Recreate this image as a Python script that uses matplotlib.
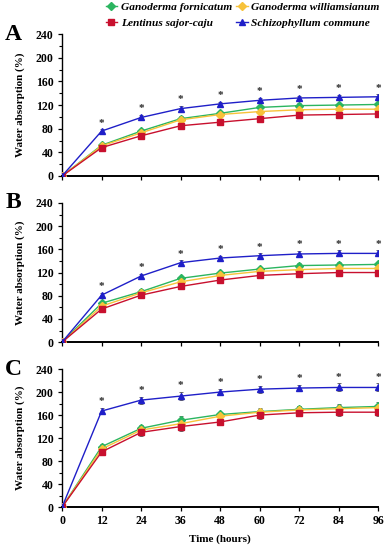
import numpy as np
import matplotlib.pyplot as plt
from matplotlib.lines import Line2D

plt.rcParams['font.family'] = ['Liberation Serif', 'DejaVu Serif']
plt.rcParams['font.weight'] = 'bold'
plt.rcParams['axes.labelweight'] = 'bold'

hours = [0, 12, 24, 36, 48, 60, 72, 84, 96]
species = ['Ganoderma fornicatum', 'Ganoderma williamsianum',
           'Lentinus sajor-caju', 'Schizophyllum commune']
colors = ['#2bb560', '#f7c23a', '#c8102e', '#1f1fc8']
markers = ['D', 'D', 's', '^']

# panel A
a_gf = [0, 52, 76, 97, 106, 116, 119, 120, 121]
a_gw = [0, 51, 73, 95, 104, 109, 112, 113, 113]
a_ls = [0, 48, 68, 85, 91, 97, 103, 104, 105]
a_sc = [0, 76, 99, 114, 122, 128, 132, 133, 134]
a_err = [0, 3, 4, 4, 4, 4, 4, 4, 4]

# panel B
b_gf = [0, 67, 87, 110, 119, 126, 132, 133, 134]
b_gw = [0, 62, 85, 104, 115, 122, 125, 127, 127]
b_ls = [0, 57, 81, 96, 107, 115, 118, 120, 120]
b_sc = [0, 81, 114, 137, 145, 149, 152, 153, 153]
b_err = [0, 4, 4, 4, 4, 4, 5, 5, 5]

# panel C
c_gf = [0, 105, 137, 151, 161, 166, 170, 173, 175]
c_gw = [0, 101, 134, 145, 158, 165, 169, 171, 173]
c_ls = [0, 96, 130, 140, 148, 160, 164, 165, 165]
c_sc = [0, 167, 186, 193, 200, 205, 207, 208, 208]
c_err = [0, 5, 6, 7, 5, 6, 6, 7, 7]

panels = [('A', [a_gf, a_gw, a_ls, a_sc], a_err),
          ('B', [b_gf, b_gw, b_ls, b_sc], b_err),
          ('C', [c_gf, c_gw, c_ls, c_sc], c_err)]

fig = plt.figure(figsize=(3.88, 5.5), dpi=100)
boxes = [[0.160, 0.680, 0.815, 0.258],
         [0.160, 0.378, 0.815, 0.253],
         [0.160, 0.078, 0.815, 0.251]]

for (label, series, err), box in zip(panels, boxes):
    ax = fig.add_axes(box)
    for vals, c, m in zip(series, colors, markers):
        ax.errorbar(hours, vals, yerr=err, color=c, marker=m, markersize=4.2,
                    linewidth=1.0, ecolor='#555555', elinewidth=0.6,
                    capsize=1.2, capthick=0.6, zorder=3)
    sc = series[3]
    for x, y, e in zip(hours[1:], sc[1:], err[1:]):
        ax.text(x, y + e + 3, '*', ha='center', va='bottom',
                fontsize=8, color='#2a2a2a')
    ax.set_xlim(0, 96)
    ax.set_ylim(0, 240)
    ax.set_xticks(hours)
    ax.set_yticks(range(0, 241, 40))
    ax.set_yticks(range(0, 241, 20), minor=True)
    for s in ['top', 'right']:
        ax.spines[s].set_visible(False)
    ax.spines['left'].set_linewidth(1.0)
    ax.spines['bottom'].set_linewidth(1.4)
    ax.tick_params(axis='both', labelsize=8.5, width=0.9, length=3, pad=3)
    ax.tick_params(axis='y', which='minor', length=2, width=0.8)
    for t in ax.get_xticklabels() + ax.get_yticklabels():
        t.set_fontweight('bold')
    ax.set_ylabel('Water absorption (%)', fontsize=8, fontweight='bold',
                  labelpad=8)
    ax.text(-0.155, 1.0, label, transform=ax.transAxes, fontsize=17,
            fontweight='bold', ha='center', va='center')
    if label != 'C':
        ax.set_xticklabels([])
    else:
        ax.set_xlabel('Time (hours)', fontsize=8, fontweight='bold',
                      labelpad=5)

handles = [Line2D([], [], color=c, marker=m, markersize=4, linewidth=1.0)
           for c, m in zip(colors, markers)]
order = [0, 2, 1, 3]
fig.legend([handles[i] for i in order], [species[i] for i in order],
           loc='upper left', bbox_to_anchor=(0.255, 1.008), ncol=2,
           frameon=False, prop={'style': 'italic', 'weight': 'bold', 'size': 8.2},
           handlelength=1.0, handletextpad=0.3, columnspacing=0.4,
           labelspacing=0.45, borderaxespad=0.2)

fig.savefig('out.png', dpi=100)
